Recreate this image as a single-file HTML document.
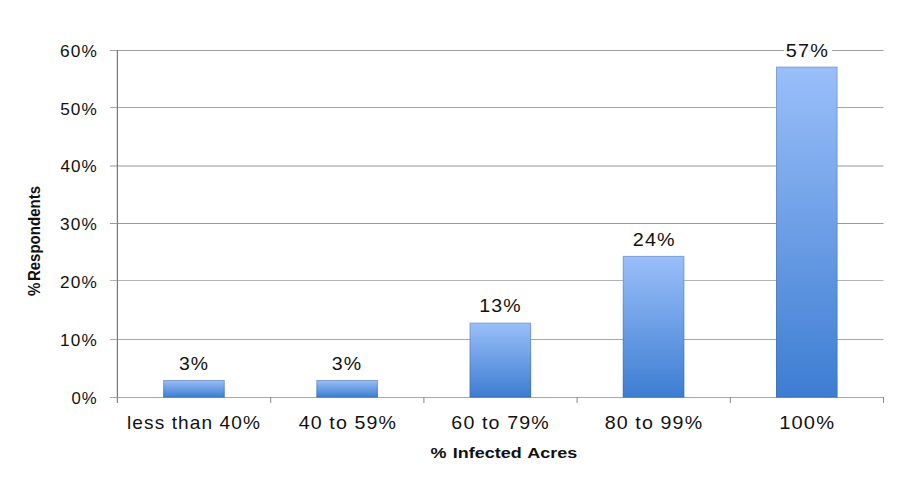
<!DOCTYPE html><html><head><meta charset="utf-8"><style>html,body{margin:0;padding:0;background:#fff;width:907px;height:480px;overflow:hidden}svg{display:block}text{font-family:"Liberation Sans",sans-serif;fill:#111}</style></head><body>
<svg width="907" height="480" viewBox="0 0 907 480">
<defs><linearGradient id="g" x1="0" y1="0" x2="0" y2="1"><stop offset="0" stop-color="#9abff9"/><stop offset="1" stop-color="#3d7dd2"/></linearGradient></defs>
<line x1="117.0" y1="50.5" x2="883.5" y2="50.5" stroke="#a0a0a0" stroke-width="1"/>
<line x1="117.0" y1="107.5" x2="883.5" y2="107.5" stroke="#a6a6a6" stroke-width="1"/>
<line x1="117.0" y1="166.0" x2="883.5" y2="166.0" stroke="#979797" stroke-width="1"/>
<line x1="117.0" y1="223.5" x2="883.5" y2="223.5" stroke="#9a9a9a" stroke-width="1"/>
<line x1="117.0" y1="280.5" x2="883.5" y2="280.5" stroke="#b4b4b4" stroke-width="1"/>
<line x1="117.0" y1="339.5" x2="883.5" y2="339.5" stroke="#a8a8a8" stroke-width="1"/>
<line x1="116.5" y1="50" x2="116.5" y2="403" stroke="#e4e4e4" stroke-width="1"/>
<line x1="117.5" y1="50" x2="117.5" y2="403" stroke="#787878" stroke-width="1"/>
<line x1="117.0" y1="397.5" x2="883.5" y2="397.5" stroke="#a8a8a8" stroke-width="1"/>
<line x1="110" y1="50.5" x2="117.0" y2="50.5" stroke="#a0a0a0" stroke-width="1"/>
<line x1="110" y1="107.5" x2="117.0" y2="107.5" stroke="#a6a6a6" stroke-width="1"/>
<line x1="110" y1="166.0" x2="117.0" y2="166.0" stroke="#979797" stroke-width="1"/>
<line x1="110" y1="223.5" x2="117.0" y2="223.5" stroke="#9a9a9a" stroke-width="1"/>
<line x1="110" y1="280.5" x2="117.0" y2="280.5" stroke="#b4b4b4" stroke-width="1"/>
<line x1="110" y1="339.5" x2="117.0" y2="339.5" stroke="#a8a8a8" stroke-width="1"/>
<line x1="110" y1="397.5" x2="117.0" y2="397.5" stroke="#a8a8a8" stroke-width="1"/>
<line x1="117.50" y1="397" x2="117.50" y2="403" stroke="#888" stroke-width="1"/>
<line x1="270.70" y1="397" x2="270.70" y2="403" stroke="#888" stroke-width="1"/>
<line x1="423.90" y1="397" x2="423.90" y2="403" stroke="#888" stroke-width="1"/>
<line x1="577.10" y1="397" x2="577.10" y2="403" stroke="#888" stroke-width="1"/>
<line x1="730.30" y1="397" x2="730.30" y2="403" stroke="#888" stroke-width="1"/>
<line x1="883.50" y1="397" x2="883.50" y2="403" stroke="#888" stroke-width="1"/>
<rect x="163.20" y="380.00" width="61.5" height="17.50" fill="url(#g)"/>
<rect x="163.70" y="380.50" width="60.5" height="16.50" fill="none" stroke="rgba(70,85,120,0.28)" stroke-width="1"/>
<rect x="316.40" y="380.00" width="61.5" height="17.50" fill="url(#g)"/>
<rect x="316.90" y="380.50" width="60.5" height="16.50" fill="none" stroke="rgba(70,85,120,0.28)" stroke-width="1"/>
<rect x="469.60" y="322.70" width="61.5" height="74.80" fill="url(#g)"/>
<rect x="470.10" y="323.20" width="60.5" height="73.80" fill="none" stroke="rgba(70,85,120,0.28)" stroke-width="1"/>
<rect x="622.80" y="255.90" width="61.5" height="141.60" fill="url(#g)"/>
<rect x="623.30" y="256.40" width="60.5" height="140.60" fill="none" stroke="rgba(70,85,120,0.28)" stroke-width="1"/>
<rect x="776.00" y="66.70" width="61.5" height="330.80" fill="url(#g)"/>
<rect x="776.50" y="67.20" width="60.5" height="329.80" fill="none" stroke="rgba(70,85,120,0.28)" stroke-width="1"/>
<rect x="784" y="42" width="48" height="18" fill="#fff"/>
<text transform="translate(78.94,56.70) scale(1.0807,1)" style="font-size:16px;letter-spacing:1.0px" text-anchor="middle">60%</text>
<text transform="translate(78.98,114.53) scale(1.0760,1)" style="font-size:16px;letter-spacing:1.0px" text-anchor="middle">50%</text>
<text transform="translate(79.14,172.36) scale(1.0672,1)" style="font-size:16px;letter-spacing:1.0px" text-anchor="middle">40%</text>
<text transform="translate(78.95,230.19) scale(1.0775,1)" style="font-size:16px;letter-spacing:1.0px" text-anchor="middle">30%</text>
<text transform="translate(78.92,288.02) scale(1.0782,1)" style="font-size:16px;letter-spacing:1.0px" text-anchor="middle">20%</text>
<text transform="translate(78.94,345.85) scale(1.0752,1)" style="font-size:16px;letter-spacing:1.0px" text-anchor="middle">10%</text>
<text transform="translate(84.64,403.68) scale(1.0474,1)" style="font-size:16px;letter-spacing:1.0px" text-anchor="middle">0%</text>
<text transform="translate(194.00,428.50) scale(1.0897,1)" style="font-size:17.5px;letter-spacing:1.0px" text-anchor="middle">less than 40%</text>
<text transform="translate(347.89,428.50) scale(1.1206,1)" style="font-size:17.5px;letter-spacing:1.0px" text-anchor="middle">40 to 59%</text>
<text transform="translate(500.54,428.50) scale(1.1209,1)" style="font-size:17.5px;letter-spacing:1.0px" text-anchor="middle">60 to 79%</text>
<text transform="translate(653.97,428.50) scale(1.1223,1)" style="font-size:17.5px;letter-spacing:1.0px" text-anchor="middle">80 to 99%</text>
<text transform="translate(807.17,428.50) scale(1.1494,1)" style="font-size:17.5px;letter-spacing:1.0px" text-anchor="middle">100%</text>
<text transform="translate(194.03,370.30) scale(1.1075,1)" style="font-size:17.5px;letter-spacing:1.0px" text-anchor="middle">3%</text>
<text transform="translate(347.11,370.30) scale(1.1191,1)" style="font-size:17.5px;letter-spacing:1.0px" text-anchor="middle">3%</text>
<text transform="translate(500.48,312.30) scale(1.1168,1)" style="font-size:17.5px;letter-spacing:1.0px" text-anchor="middle">13%</text>
<text transform="translate(654.31,246.20) scale(1.1289,1)" style="font-size:17.5px;letter-spacing:1.0px" text-anchor="middle">24%</text>
<text transform="translate(807.42,57.30) scale(1.1350,1)" style="font-size:17.5px;letter-spacing:1.0px" text-anchor="middle">57%</text>
<text transform="translate(503.89,458.00) scale(1.1988,1)" style="font-size:15px;letter-spacing:0px;font-weight:bold;word-spacing:1px" text-anchor="middle">% Infected Acres</text>
<text transform="translate(39.60,240.94) rotate(-90) scale(0.9111,1)" style="font-size:16.5px;letter-spacing:0px;font-weight:bold;word-spacing:-3px" text-anchor="middle">% Respondents</text>
</svg></body></html>
